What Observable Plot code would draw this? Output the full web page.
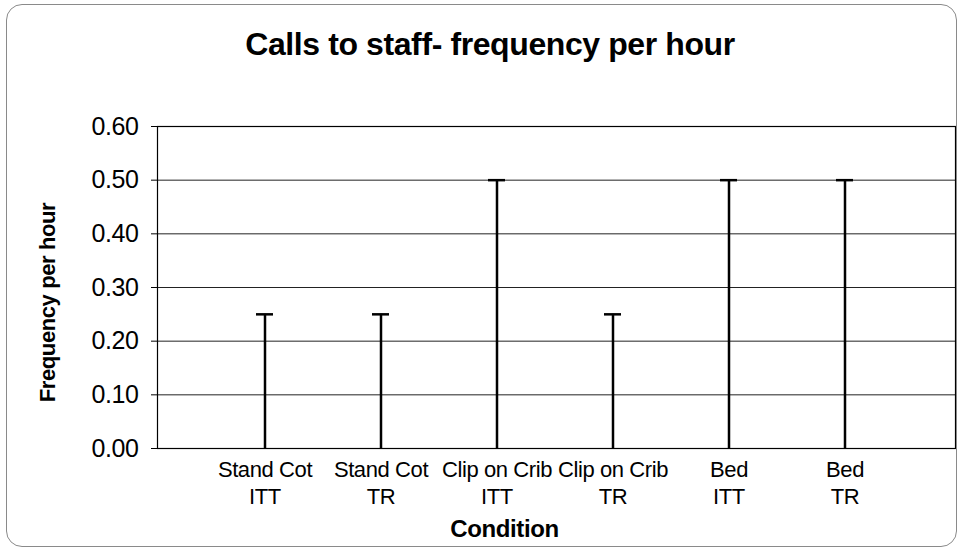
<!DOCTYPE html>
<html>
<head>
<meta charset="utf-8">
<script src="https://cdn.jsdelivr.net/npm/d3@7"></script>
<script src="https://cdn.jsdelivr.net/npm/@observablehq/plot@0.6"></script>
<style>
  html, body { margin: 0; padding: 0; background: #fff; }
  #wrap { position: relative; width: 963px; height: 552px; overflow: hidden; font-family: "Liberation Sans", Arial, sans-serif; }
  #border { position: absolute; left: 6px; top: 4px; width: 949px; height: 541px; border: 1.5px solid #8a8a8a; border-radius: 16px; pointer-events: none; }
  #title { box-sizing: border-box; width: 963px; height: 84px; padding-top: 28px; padding-left: 17px; text-align: center; font-size: 32px; line-height: 32px; font-weight: bold; letter-spacing: -0.4px; color: #000; }
  svg text { letter-spacing: -0.4px; }
</style>
</head>
<body>
<div id="wrap">
  <div id="border"></div>
  <div id="title">Calls to staff- frequency per hour</div>
  <div id="chart"></div>
</div>
<script>
const conditions = ["Stand Cot", "Stand Cot", "Clip on Crib", "Clip on Crib", "Bed", "Bed"];
const groups = ["ITT", "TR", "ITT", "TR", "ITT", "TR"];
const values = [0.25, 0.25, 0.50, 0.25, 0.50, 0.50];
const yTicks = [0, 0.1, 0.2, 0.3, 0.4, 0.5, 0.6];
const yLabel = "Frequency per hour";
const xLabel = "Condition";

const data = conditions.map((c, i) => ({key: c + "\n" + groups[i], value: values[i]}));

const chart = Plot.plot({
  width: 963,
  height: 468,
  marginLeft: 157,
  marginRight: 8,
  marginTop: 42,
  marginBottom: 104,
  style: {fontFamily: "'Liberation Sans', Arial, sans-serif", fontSize: "24px", background: "transparent", color: "#000", overflow: "visible"},
  x: {type: "band", domain: data.map(d => d.key), paddingInner: 0.855, paddingOuter: 0.8436, align: 0.49, axis: null},
  y: {domain: [0, 0.6], axis: null},
  marks: [
    Plot.gridY(yTicks, {stroke: "#222", strokeOpacity: 1, strokeWidth: 1}),
    Plot.frame({stroke: "#000", strokeWidth: 1.2}),
    Plot.axisY(yTicks, {tickFormat: d3.format(".2f"), tickSize: 6, tickPadding: 13, fontSize: 25, label: null, stroke: "#000"}),
    Plot.ruleX(data, {x: "key", y1: 0, y2: "value", stroke: "#000", strokeWidth: 2.5}),
    Plot.tickY(data, {x: "key", y: "value", stroke: "#000", strokeWidth: 2.5}),
    Plot.text(data, {x: "key", text: "key", frameAnchor: "bottom", lineAnchor: "middle", textAnchor: "middle", dy: 33.5, lineHeight: 1.23, fontSize: 22, fill: "#000"}),
    Plot.text([yLabel], {frameAnchor: "left", textAnchor: "middle", lineAnchor: "middle", dx: -110, dy: 15, rotate: -90, fontWeight: "bold", fontSize: 22, fill: "#000"}),
    Plot.text([xLabel], {frameAnchor: "bottom", textAnchor: "middle", lineAnchor: "middle", dx: -52, dy: 81, fontWeight: "bold", fontSize: 24, fill: "#000"})
  ]
});
document.getElementById("chart").appendChild(chart);
</script>
</body>
</html>
